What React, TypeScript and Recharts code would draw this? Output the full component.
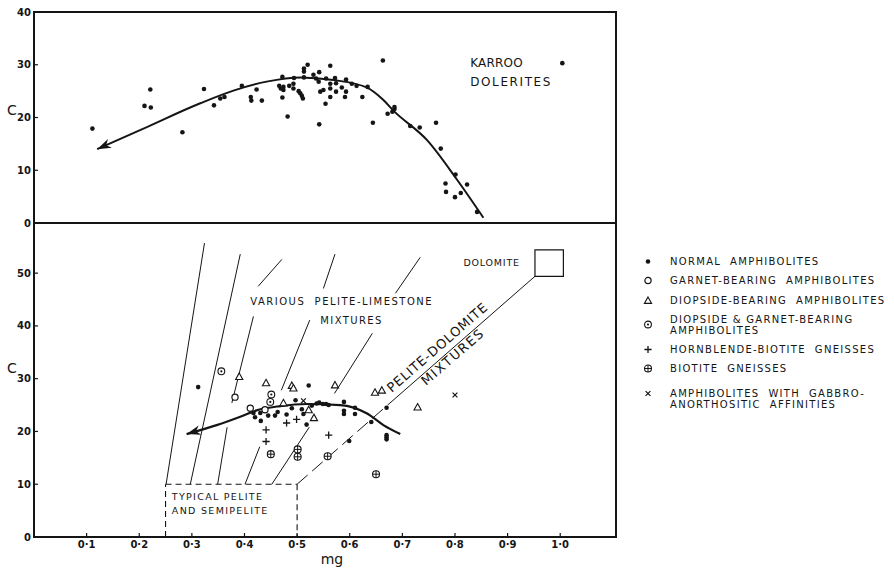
import {
  ComposedChart,
  Line,
  ReferenceArea,
  ReferenceDot,
  ReferenceLine,
  Scatter,
  XAxis,
  YAxis,
} from "recharts";

type Pt = [number, number];

const INK = "#151515";
const FONT = "'DejaVu Sans', 'Liberation Sans', sans-serif";
const X_MAX = 1.106;
const TOP_MAX = 40;
const BOTTOM_MAX = 59.5;

const xTicks = [0.1, 0.2, 0.3, 0.4, 0.5, 0.6, 0.7, 0.8, 0.9, 1.0];
const xTickLabels = ["0·1", "0·2", "0·3", "0·4", "0·5", "0·6", "0·7", "0·8", "0·9", "1·0"];
const topYTicks = [0, 10, 20, 30, 40];
const bottomYTicks = [0, 10, 20, 30, 40, 50];

// upper panel: Karroo dolerites (mg, C)
const karroo: Pt[] = [
  [0.111, 17.9], [0.21, 22.2], [0.221, 25.3], [0.222, 21.9], [0.282, 17.2],
  [0.323, 25.4], [0.342, 22.3], [0.354, 23.6], [0.362, 23.9], [0.395, 26.0],
  [0.412, 23.9], [0.413, 23.2], [0.423, 25.3], [0.433, 23.2], [0.466, 26.0],
  [0.469, 25.5], [0.472, 27.7], [0.472, 23.8], [0.474, 25.8], [0.474, 25.2],
  [0.482, 20.2], [0.485, 26.0], [0.493, 26.4], [0.493, 25.5], [0.494, 27.5],
  [0.503, 25.0], [0.506, 24.6], [0.509, 24.1], [0.511, 23.6], [0.513, 27.6],
  [0.513, 28.7], [0.513, 29.3], [0.52, 30.0], [0.531, 28.1], [0.536, 27.4],
  [0.541, 26.8], [0.542, 28.6], [0.544, 24.9], [0.55, 25.2], [0.555, 27.4],
  [0.554, 22.6], [0.542, 18.7], [0.563, 29.8], [0.563, 26.4], [0.563, 25.5],
  [0.563, 23.9], [0.572, 27.5], [0.574, 26.5], [0.574, 24.9], [0.585, 25.7],
  [0.593, 27.2], [0.593, 24.9], [0.591, 23.9], [0.604, 26.4], [0.613, 26.0],
  [0.624, 23.9], [0.634, 25.8], [0.644, 19.0], [0.663, 30.8], [0.672, 20.7],
  [0.681, 21.1], [0.685, 22.0], [0.685, 21.6], [0.715, 18.4], [0.733, 18.1],
  [0.764, 19.0], [0.773, 14.1], [0.782, 7.5], [0.783, 5.9], [0.801, 9.2],
  [0.8, 4.9], [0.811, 5.7], [0.823, 7.3], [0.842, 2.1], [1.004, 30.3],
];

// trend drawn through the dolerites, arrow tip first
const karrooTrend: Pt[] = [
  [0.12, 14.0], [0.208, 17.9], [0.316, 22.7], [0.379, 25.1], [0.442, 26.8],
  [0.506, 27.6], [0.569, 27.1], [0.632, 25.7], [0.664, 23.3], [0.683, 21.3],
  [0.747, 15.7], [0.804, 8.2], [0.854, 1.0],
];

// lower panel series (mg, C)
const normalAmph: Pt[] = [
  [0.312, 28.4], [0.522, 28.7], [0.497, 25.9], [0.417, 23.5], [0.42, 22.7],
  [0.43, 23.5], [0.431, 22.0], [0.445, 23.0], [0.458, 23.0], [0.463, 23.7],
  [0.48, 23.2], [0.49, 24.4], [0.509, 24.2], [0.512, 23.3], [0.518, 21.3],
  [0.528, 24.9], [0.537, 25.3], [0.542, 25.5], [0.549, 25.2], [0.555, 25.2],
  [0.56, 25.0], [0.589, 25.6], [0.589, 23.9], [0.589, 23.3], [0.61, 24.5],
  [0.61, 23.3], [0.641, 21.8], [0.67, 24.5], [0.599, 18.2], [0.67, 19.3],
  [0.67, 18.9], [0.67, 18.5],
];
const garnetAmph: Pt[] = [[0.382, 26.5], [0.411, 24.4], [0.439, 24.1]];
const diopsideAmph: Pt[] = [
  [0.39, 30.4], [0.441, 29.2], [0.49, 28.7], [0.493, 28.2], [0.474, 25.4],
  [0.522, 24.1], [0.532, 22.6], [0.572, 28.8], [0.648, 27.4], [0.661, 27.8],
  [0.729, 24.6],
];
const diopGarnetAmph: Pt[] = [[0.356, 31.4], [0.451, 27.0], [0.449, 25.6]];
const hbBiotiteGneiss: Pt[] = [[0.48, 21.6], [0.499, 22.3], [0.441, 20.3], [0.441, 18.1], [0.56, 19.3]];
const biotiteGneiss: Pt[] = [[0.45, 15.7], [0.501, 16.6], [0.501, 15.2], [0.558, 15.3], [0.65, 11.9]];
const gabbroAmph: Pt[] = [[0.512, 25.8], [0.8, 26.9]];

const amphTrend: Pt[] = [
  [0.29, 19.5], [0.347, 21.2], [0.392, 22.8], [0.423, 24.0], [0.468, 24.8],
  [0.518, 25.2], [0.582, 25.0], [0.633, 23.4], [0.664, 21.2], [0.696, 19.5],
];

// pelite-limestone tie lines, broken where labels and points sit
const fanSegments: [Pt, Pt][] = [
  [[0.251, 10], [0.324, 55.7]],
  [[0.297, 10], [0.392, 53.6]],
  [[0.349, 10], [0.367, 20.8]],
  [[0.376, 25.4], [0.417, 41.8]],
  [[0.426, 47.5], [0.471, 52.6]],
  [[0.401, 10], [0.429, 17.1]],
  [[0.47, 27.8], [0.524, 41.1]],
  [[0.55, 47.1], [0.572, 53.6]],
  [[0.452, 10], [0.523, 20.8]],
  [[0.571, 27.2], [0.643, 38.6]],
  [[0.687, 46.2], [0.734, 53.0]],
];
const typicalBox: [Pt, Pt][] = [
  [[0.25, 0], [0.25, 10]],
  [[0.25, 10], [0.5, 10]],
  [[0.5, 10], [0.5, 0]],
];
const dolomiteTieDashed: [Pt, Pt] = [[0.5, 10], [0.672, 25.0]];
const dolomiteTieSolid: [Pt, Pt] = [[0.672, 25.0], [0.952, 49.4]];
const dolomiteBox = { x1: 0.952, x2: 1.006, y1: 49.4, y2: 54.4 };

type Note = { text: string; at: Pt; size: number; spacing: number; angle?: number };
const topNotes: Note[] = [
  { text: "KARROO", at: [0.829, 30.4], size: 12, spacing: 0.2 },
  { text: "DOLERITES", at: [0.829, 26.7], size: 12, spacing: 1.6 },
];
const bottomNotes: Note[] = [
  { text: "VARIOUS  PELITE-LIMESTONE", at: [0.411, 44.6], size: 10, spacing: 1.5 },
  { text: "MIXTURES", at: [0.544, 41.0], size: 10, spacing: 1.4 },
  { text: "DOLOMITE", at: [0.816, 52.0], size: 9.5, spacing: 0.8 },
  { text: "TYPICAL PELITE", at: [0.262, 7.6], size: 9.5, spacing: 1.3 },
  { text: "AND SEMIPELITE", at: [0.262, 5.0], size: 9.5, spacing: 1.3 },
  { text: "PELITE-DOLOMITE", at: [0.68, 27.3], size: 13, spacing: 0.8, angle: -41 },
  { text: "MIXTURES", at: [0.745, 28.6], size: 13, spacing: 1.5, angle: -41 },
];

const legendItems = [
  { kind: "normal", lines: ["NORMAL  AMPHIBOLITES"] },
  { kind: "garnet", lines: ["GARNET-BEARING  AMPHIBOLITES"] },
  { kind: "diopside", lines: ["DIOPSIDE-BEARING  AMPHIBOLITES"] },
  { kind: "diopGarnet", lines: ["DIOPSIDE & GARNET-BEARING", "AMPHIBOLITES"] },
  { kind: "hbBiotite", lines: ["HORNBLENDE-BIOTITE  GNEISSES"] },
  { kind: "biotite", lines: ["BIOTITE  GNEISSES"] },
  { kind: "gabbro", lines: ["AMPHIBOLITES  WITH  GABBRO-", "ANORTHOSITIC  AFFINITIES"] },
];

const toData = (pts: Pt[]) => pts.map(([x, y]) => ({ x, y }));

function FilledDot({ cx, cy }: any) {
  return <circle cx={cx} cy={cy} r={2.3} fill={INK} />;
}
function OpenCircle({ cx, cy }: any) {
  return <circle cx={cx} cy={cy} r={3.1} fill="#fff" stroke={INK} strokeWidth={1.2} />;
}
function OpenTriangle({ cx, cy }: any) {
  const s = 3.6;
  return (
    <path
      d={`M${cx},${cy - s} L${cx + s},${cy + s * 0.8} L${cx - s},${cy + s * 0.8} Z`}
      fill="#fff"
      stroke={INK}
      strokeWidth={1.1}
    />
  );
}
function DotCircle({ cx, cy }: any) {
  return (
    <g>
      <circle cx={cx} cy={cy} r={3.4} fill="#fff" stroke={INK} strokeWidth={1.1} />
      <circle cx={cx} cy={cy} r={1.1} fill={INK} />
    </g>
  );
}
function PlusMark({ cx, cy }: any) {
  const s = 3.6;
  return <path d={`M${cx - s},${cy} H${cx + s} M${cx},${cy - s} V${cy + s}`} stroke={INK} strokeWidth={1.3} />;
}
function CirclePlus({ cx, cy }: any) {
  const r = 3.5;
  return (
    <g>
      <circle cx={cx} cy={cy} r={r} fill="#fff" stroke={INK} strokeWidth={1.1} />
      <path d={`M${cx - r},${cy} H${cx + r} M${cx},${cy - r} V${cy + r}`} stroke={INK} strokeWidth={1} />
    </g>
  );
}
function CrossMark({ cx, cy }: any) {
  const s = 2.4;
  return (
    <path
      d={`M${cx - s},${cy - s} L${cx + s},${cy + s} M${cx - s},${cy + s} L${cx + s},${cy - s}`}
      stroke={INK}
      strokeWidth={1.2}
    />
  );
}

const shapes: Record<string, (p: any) => any> = {
  normal: FilledDot,
  garnet: OpenCircle,
  diopside: OpenTriangle,
  diopGarnet: DotCircle,
  hbBiotite: PlusMark,
  biotite: CirclePlus,
  gabbro: CrossMark,
};

// filled arrow head on the first point of a trend line
function ArrowTip(props: any) {
  const { cx, cy, index, points } = props;
  if (index !== 0 || cx == null) return <g key={`tip-${index}`} />;
  let dx = -1;
  let dy = 0.45;
  if (points && points[1]) {
    dx = cx - points[1].x;
    dy = cy - points[1].y;
  }
  const len = Math.hypot(dx, dy) || 1;
  const ux = dx / len;
  const uy = dy / len;
  const L = 14;
  const W = 4.8;
  const bx = cx - ux * L;
  const by = cy - uy * L;
  const nx = cx - ux * L * 0.7;
  const ny = cy - uy * L * 0.7;
  const d = `M${cx},${cy} L${bx - uy * W},${by + ux * W} L${nx},${ny} L${bx + uy * W},${by - ux * W} Z`;
  return <path key="tip" d={d} fill={INK} />;
}

function noteShape(n: Note) {
  return (p: any) => (
    <text
      x={p.cx}
      y={p.cy}
      fontFamily={FONT}
      fontSize={n.size}
      letterSpacing={n.spacing}
      fill={INK}
      dominantBaseline={n.angle ? "auto" : "central"}
      transform={n.angle ? `rotate(${n.angle} ${p.cx} ${p.cy})` : undefined}
      style={{ whiteSpace: "pre" }}
    >
      {n.text}
    </text>
  );
}

const tickStyle = { fontSize: 10, fill: INK, fontFamily: FONT, fontWeight: "bold" };
const xTickFormat = (v: number) => xTickLabels[xTicks.indexOf(v)] ?? "";

function TopPanel() {
  return (
    <ComposedChart width={894} height={236} margin={{ top: 12, right: 278, bottom: 0, left: 0 }}>
      <XAxis
        type="number"
        dataKey="x"
        domain={[0, X_MAX]}
        allowDataOverflow
        ticks={xTicks}
        tick={false}
        tickSize={-4}
        height={13}
        axisLine={false}
        tickLine={{ stroke: INK, strokeWidth: 1.2 }}
      />
      <YAxis
        type="number"
        dataKey="y"
        domain={[0, TOP_MAX]}
        allowDataOverflow
        ticks={topYTicks}
        width={34}
        tickSize={-4}
        tickMargin={7}
        axisLine={false}
        tickLine={{ stroke: INK, strokeWidth: 1.2 }}
        tick={tickStyle}
        label={{ value: "C", position: "insideLeft", offset: 7, dy: -7, fontSize: 14, fill: INK, fontFamily: FONT }}
      />
      <ReferenceArea x1={0} x2={X_MAX} y1={0} y2={TOP_MAX} fill="none" stroke={INK} strokeWidth={2} />
      {topNotes.map((n) => (
        <ReferenceDot key={n.text} x={n.at[0]} y={n.at[1]} r={0} shape={noteShape(n)} />
      ))}
      <Scatter data={toData(karroo)} shape={FilledDot} isAnimationActive={false} />
      <Line
        data={toData(karrooTrend)}
        dataKey="y"
        type="monotoneX"
        stroke={INK}
        strokeWidth={2}
        dot={ArrowTip}
        activeDot={false}
        isAnimationActive={false}
      />
    </ComposedChart>
  );
}

function BottomPanel() {
  return (
    <ComposedChart width={894} height={356} margin={{ top: 10, right: 278, bottom: 0, left: 0 }}>
      <XAxis
        type="number"
        dataKey="x"
        domain={[0, X_MAX]}
        allowDataOverflow
        ticks={xTicks}
        tickFormatter={xTickFormat}
        tickSize={-4}
        tickMargin={8}
        height={32}
        axisLine={false}
        tickLine={{ stroke: INK, strokeWidth: 1.2 }}
        tick={tickStyle}
        label={{ value: "mg", position: "insideBottom", offset: 5, dx: 7, fontSize: 14, fill: INK, fontFamily: FONT }}
      />
      <YAxis
        type="number"
        dataKey="y"
        domain={[0, BOTTOM_MAX]}
        allowDataOverflow
        ticks={bottomYTicks}
        width={34}
        tickSize={-4}
        tickMargin={7}
        axisLine={false}
        tickLine={{ stroke: INK, strokeWidth: 1.2 }}
        tick={tickStyle}
        label={{ value: "C", position: "insideLeft", offset: 7, dy: -12, fontSize: 14, fill: INK, fontFamily: FONT }}
      />
      <ReferenceArea x1={0} x2={X_MAX} y1={0} y2={BOTTOM_MAX} fill="none" stroke={INK} strokeWidth={2} />
      {fanSegments.map(([a, b], i) => (
        <ReferenceLine
          key={`fan-${i}`}
          segment={[{ x: a[0], y: a[1] }, { x: b[0], y: b[1] }]}
          stroke={INK}
          strokeWidth={1}
        />
      ))}
      {typicalBox.map(([a, b], i) => (
        <ReferenceLine
          key={`box-${i}`}
          segment={[{ x: a[0], y: a[1] }, { x: b[0], y: b[1] }]}
          stroke={INK}
          strokeWidth={1.1}
          strokeDasharray="6 4"
        />
      ))}
      <ReferenceLine
        segment={[
          { x: dolomiteTieDashed[0][0], y: dolomiteTieDashed[0][1] },
          { x: dolomiteTieDashed[1][0], y: dolomiteTieDashed[1][1] },
        ]}
        stroke={INK}
        strokeWidth={1}
        strokeDasharray="14 6"
      />
      <ReferenceLine
        segment={[
          { x: dolomiteTieSolid[0][0], y: dolomiteTieSolid[0][1] },
          { x: dolomiteTieSolid[1][0], y: dolomiteTieSolid[1][1] },
        ]}
        stroke={INK}
        strokeWidth={1}
      />
      <ReferenceArea {...dolomiteBox} fill="#fff" fillOpacity={1} stroke={INK} strokeWidth={1.2} />
      {bottomNotes.map((n) => (
        <ReferenceDot key={n.text + n.at[0]} x={n.at[0]} y={n.at[1]} r={0} shape={noteShape(n)} />
      ))}
      <Line
        data={toData(amphTrend)}
        dataKey="y"
        type="monotoneX"
        stroke={INK}
        strokeWidth={2.2}
        dot={ArrowTip}
        activeDot={false}
        isAnimationActive={false}
      />
      <Scatter data={toData(normalAmph)} shape={FilledDot} isAnimationActive={false} />
      <Scatter data={toData(garnetAmph)} shape={OpenCircle} isAnimationActive={false} />
      <Scatter data={toData(diopsideAmph)} shape={OpenTriangle} isAnimationActive={false} />
      <Scatter data={toData(diopGarnetAmph)} shape={DotCircle} isAnimationActive={false} />
      <Scatter data={toData(hbBiotiteGneiss)} shape={PlusMark} isAnimationActive={false} />
      <Scatter data={toData(biotiteGneiss)} shape={CirclePlus} isAnimationActive={false} />
      <Scatter data={toData(gabbroAmph)} shape={CrossMark} isAnimationActive={false} />
    </ComposedChart>
  );
}

function Key() {
  return (
    <div
      style={{
        position: "absolute",
        left: 640,
        top: 256,
        fontFamily: FONT,
        fontSize: 10,
        lineHeight: "11px",
        letterSpacing: 1.3,
        color: INK,
      }}
    >
      {legendItems.map((item, i) => {
        const Shape = shapes[item.kind];
        const last = i === legendItems.length - 1;
        return (
          <div
            key={item.kind}
            style={{
              display: "flex",
              alignItems: last ? "flex-start" : "center",
              marginTop: i === 0 ? 0 : last ? 14 : 8.3,
            }}
          >
            <svg width={16} height={11} style={{ marginRight: 14, flex: "none" }}>
              <Shape cx={8} cy={5.5} />
            </svg>
            <div style={{ whiteSpace: "pre" }}>
              {item.lines.map((l) => (
                <div key={l}>{l}</div>
              ))}
            </div>
          </div>
        );
      })}
    </div>
  );
}

export default function App() {
  return (
    <div style={{ position: "absolute", left: 0, top: 0, width: 894, height: 569, background: "#fff" }}>
      <div style={{ position: "absolute", left: 0, top: 213 }}>
        <BottomPanel />
      </div>
      <div style={{ position: "absolute", left: 0, top: 0 }}>
        <TopPanel />
      </div>
      <Key />
    </div>
  );
}
